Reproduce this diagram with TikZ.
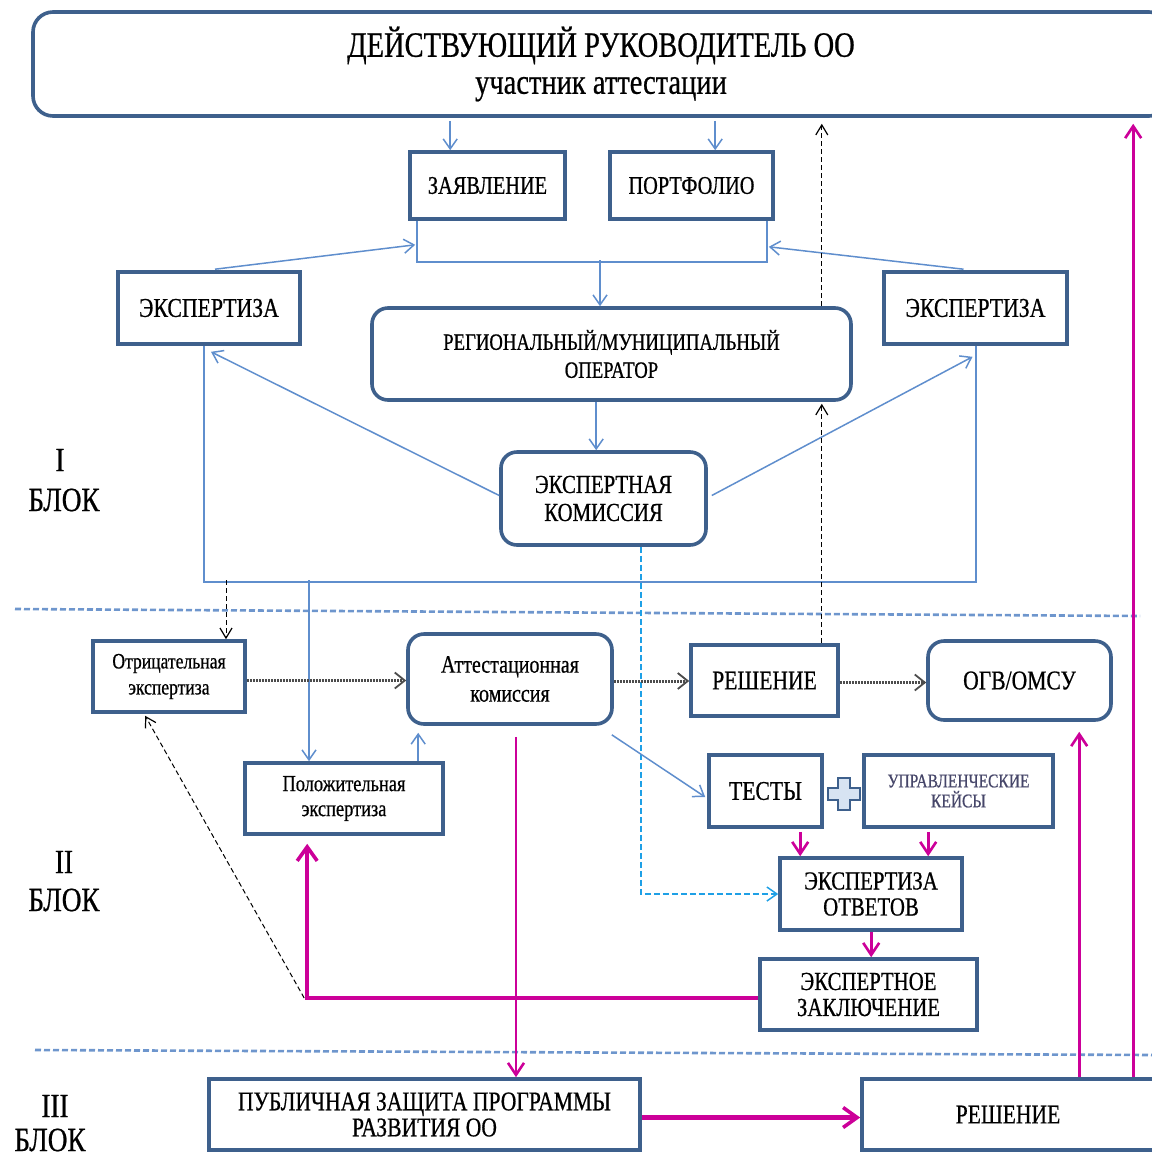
\documentclass[tikz,border=0pt]{standalone}
\usepackage{fontspec}
\setmainfont{Liberation Serif}[FakeStretch=0.8,FakeBold=0.6]
\usetikzlibrary{arrows.meta,calc}
\definecolor{boxc}{RGB}{62,96,140}
\definecolor{arrc}{RGB}{95,142,205}
\definecolor{mag}{RGB}{204,0,153}
\definecolor{cyanc}{RGB}{30,160,230}
\definecolor{sepc}{RGB}{110,150,205}
\definecolor{ukc}{RGB}{70,70,105}
\begin{document}
\begin{tikzpicture}[x=0.5pt,y=-0.5pt,
 box/.style={draw=boxc,line width=1.8pt,fill=white,align=center,inner sep=0pt},
 rbox/.style={box,rounded corners=8pt},
 bx/.style 2 args={minimum width=#1*0.5pt,minimum height=#2*0.5pt},
 fs/.style 2 args={font=\fontsize{#1}{#2}\selectfont},
 thinl/.style={draw=arrc,line width=0.75pt},
 thinarr/.style={thinl,-{Straight Barb[length=5pt,width=7pt,line width=0.75pt]}},
 magarr/.style={draw=mag,line width=1.4pt,-{Straight Barb[length=6pt,width=8pt,line width=1.3pt]}},
 magthick/.style={draw=mag,line width=2.2pt,-{Straight Barb[length=7pt,width=10pt,line width=1.8pt]}},
 blkdash/.style={draw=black,line width=0.5pt,dash pattern=on 2.5pt off 1.5pt,-{Straight Barb[length=5pt,width=6pt,line width=0.6pt]}},
 dotarr/.style={draw=black!70,line width=1.5pt,dash pattern=on 1pt off 0.5pt,-{Straight Barb[length=5pt,width=8pt,line width=0.9pt]}},
 cyandash/.style={draw=cyanc,line width=0.75pt,dash pattern=on 3pt off 1.5pt,-{Straight Barb[length=5pt,width=7pt,line width=0.75pt]}},
 sepline/.style={draw=sepc,line width=1.3pt,dash pattern=on 3pt off 1.5pt},
 lbl/.style={inner sep=0pt,fs={17}{20}}
]
\useasboundingbox (0,0) rectangle (1152,1152);
\clip (0,0) rectangle (1152,1152);

% nodes
\node[rbox,rounded corners=10pt,bx={1136}{104},fs={17.8}{18.5}] (top) at (601,64) {ДЕЙСТВУЮЩИЙ РУКОВОДИТЕЛЬ ОО\\участник аттестации};
\node[box,bx={155}{67},fs={12.7}{14}] (zayav) at (487.5,185.5) {ЗАЯВЛЕНИЕ};
\node[box,bx={163}{67},fs={12.7}{14}] (portf) at (691.5,185.5) {ПОРТФОЛИО};
\node[box,bx={182}{72},fs={13.6}{14}] (expL) at (209,308) {ЭКСПЕРТИЗА};
\node[box,bx={183}{72},fs={13.6}{14}] (expR) at (975.5,308) {ЭКСПЕРТИЗА};
\node[rbox,bx={479}{92},fs={11.7}{14}] (reg) at (611.5,354) {РЕГИОНАЛЬНЫЙ/МУНИЦИПАЛЬНЫЙ\\ОПЕРАТОР};
\node[rbox,bx={205}{93},fs={13}{14}] (ek) at (603.5,498.5) {ЭКСПЕРТНАЯ\\КОМИССИЯ};
\node[box,bx={152}{71},fs={11}{13}] (otr) at (169,676.5) {Отрицательная\\экспертиза};
\node[rbox,bx={204}{90},fs={12.5}{14.5}] (att) at (510,679) {Аттестационная\\комиссия};
\node[box,bx={147}{71},fs={13.5}{14}] (resh1) at (764.5,680.5) {РЕШЕНИЕ};
\node[rbox,bx={183}{79},fs={13.5}{14}] (ogv) at (1019.5,680.5) {ОГВ/ОМСУ};
\node[box,bx={198}{71},fs={11.5}{12.5}] (pol) at (344,798.5) {Положительная\\экспертиза};
\node[box,bx={113}{72},fs={13.5}{14}] (tests) at (765.5,791) {ТЕСТЫ};
\node[box,bx={189}{72},fs={9.7}{10},text=ukc] (uk) at (958.5,791) {УПРАВЛЕНЧЕСКИЕ\\КЕЙСЫ};
\node[box,bx={182}{72},fs={13}{13}] (eo) at (871,894) {ЭКСПЕРТИЗА\\ОТВЕТОВ};
\node[box,bx={217}{71},fs={13}{13}] (ez) at (868.5,994.5) {ЭКСПЕРТНОЕ\\ЗАКЛЮЧЕНИЕ};
\node[box,bx={431}{71},fs={13.5}{13}] (pub) at (424.5,1114.5) {ПУБЛИЧНАЯ ЗАЩИТА ПРОГРАММЫ\\РАЗВИТИЯ ОО};
\node[box,bx={308}{71},fs={13.5}{14}] (resh2) at (1016,1114.5) {\hspace*{-8pt}РЕШЕНИЕ};

% block labels
\node[lbl] (b1a) at (60,460) {I};
\node[lbl] (b1b) at (64,500) {БЛОК};
\node[lbl] (b2a) at (64,862) {II};
\node[lbl] (b2b) at (64,900) {БЛОК};
\node[lbl] (b3a) at (55,1106) {III};
\node[lbl] (b3b) at (50,1140) {БЛОК};

% separators
\coordinate (s1a) at (15,609); \coordinate (s1b) at (1140,616);
\coordinate (s2a) at (35,1050); \coordinate (s2b) at (1152,1055);
\draw[sepline] (s1a) -- (s1b);
\draw[sepline] (s2a) -- (s2b);

% top -> zayav, portf
\coordinate (za) at ($(zayav.north west)+(42,0)$);
\draw[thinarr] ($(za |- top.south)+(0,3)$) -- (za);
\coordinate (pa) at ($(portf.north west)+(107,0)$);
\draw[thinarr] ($(pa |- top.south)+(0,3)$) -- (pa);

% bracket
\coordinate (brL) at ($(zayav.south west)+(9,0)$);
\coordinate (brR) at ($(portf.south east)+(-8,0)$);
\draw[thinl] (brL) -- ($(brL)+(0,41)$) -| (brR);
\coordinate (brM) at (600,260);
\draw[thinarr] (brM) -- (brM |- reg.north);
\draw[thinarr] ($(expL.north)+(6,-1)$) -- ($(brL)+(-2,24)$);
\draw[thinarr] ($(expR.north)+(-12,-1)$) -- ($(brR)+(2,26)$);

% reg -> ek
\coordinate (re) at ($(reg.south west)+(226,0)$);
\draw[thinarr] (re) -- (re |- ek.north);
\draw[thinarr] ($(ek.west)+(0,-3)$) -- ($(expL.south)+(2,6)$);
\draw[thinarr] ($(ek.east)+(4,-3)$) -- ($(expR.south)+(-3,11)$);

% big bracket
\coordinate (bbL) at ($(expL.south)+(-5,0)$);
\coordinate (bbR) at ($(expR.south)+(0.5,0)$);
\draw[thinl] (bbL) -- ($(bbL)+(0,236)$) -| (bbR);
\coordinate (bb1) at (226,580);
\draw[blkdash] (bb1) -- (bb1 |- otr.north);
\coordinate (bb2) at (309,580);
\draw[thinarr] (bb2) -- (bb2 |- pol.north);

% cyan dashed
\coordinate (ekS) at ($(ek.south)+(37.5,0)$);
\draw[cyandash] (ekS) |- (eo.west);

% black dashed up
\coordinate (rs) at ($(resh1.north east)+(-18,0)$);
\draw[blkdash] (rs) -- ($(rs |- reg.south)+(0,2)$);
\draw[blkdash] (rs |- reg.north) -- ($(rs |- top.south)+(0,6)$);

% dotted arrows
\coordinate (d1) at ($(otr.east)+(0,4)$);
\draw[dotarr] (d1) -- (d1 -| att.west);
\coordinate (d2) at ($(att.east)+(0,2)$);
\draw[dotarr] (d2) -- (d2 -| resh1.west);
\coordinate (d3) at ($(resh1.east)+(0,2)$);
\draw[dotarr] (d3) -- (d3 -| ogv.west);

% pol -> att, att -> tests
\coordinate (pu) at ($(pol.north west)+(175,0)$);
\draw[thinarr] (pu) -- ($(pu |- att.south)+(0,7)$);
\draw[thinarr] ($(att.south east)+(-2,9)$) -- ($(tests.west)+(-2,6)$);

% plus sign
\draw[draw=boxc,line width=1.2pt,fill=arrc!25] (838,778) -- (850,778) -- (850,788) -- (860,788) -- (860,800) -- (850,800) -- (850,810) -- (838,810) -- (838,800) -- (828,800) -- (828,788) -- (838,788) -- cycle;

% magenta
\coordinate (t1) at ($(tests.south west)+(93,0)$);
\draw[magarr] ($(t1)+(0,3)$) -- (t1 |- eo.north);
\coordinate (u1) at ($(uk.south west)+(66,0)$);
\draw[magarr] ($(u1)+(0,3)$) -- (u1 |- eo.north);
\coordinate (e1) at ($(eo.south west)+(93,0)$);
\draw[magarr] (e1) -- (e1 |- ez.north);
\coordinate (z1) at ($(ez.west)+(0,3.5)$);
\coordinate (p1) at ($(pol.south west)+(64,0)$);
\draw[magthick] (z1) -| ($(p1)+(0,8)$);
\coordinate (kk) at ($(z1 -| p1)+(-3,0)$);
\coordinate (o1) at ($(otr.south west)+(54,2)$);
\draw[blkdash] (kk) -- (o1);
\coordinate (a1) at ($(att.south)+(6,11)$);
\draw[magarr] (a1) -- (a1 |- pub.north);
\coordinate (pe) at ($(pub.east)+(0,3)$);
\draw[magthick] (pe) -- (pe -| resh2.west);
\coordinate (r1) at ($(resh2.north west)+(219,0)$);
\draw[magarr] (r1) -- ($(r1 |- ogv.south)+(0,10)$);
\coordinate (r2) at ($(resh2.north west)+(273,0)$);
\draw[magarr] (r2) -- ($(r2 |- top.south)+(0,6)$);
\end{tikzpicture}
\end{document}
